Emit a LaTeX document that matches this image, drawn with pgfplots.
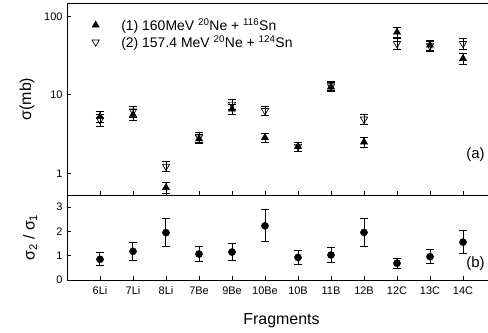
\documentclass[border=0pt]{standalone}
\usepackage{pgfplots}
\pgfplotsset{compat=1.18}
\usepackage{fontspec}
\setmainfont{Liberation Sans}
\begin{document}
\begin{tikzpicture}
\pgfplotsset{
  every axis/.append style={
    scale only axis, width=429bp, xmin=-1, xmax=12,
    xtick={0,...,11}, tick align=inside, xtick pos=lower, ytick pos=left,
    major tick length=4bp, axis line style={line width=0.8bp},
    every tick/.style={black, line width=0.8bp},
    ticklabel style={font=\fontsize{11}{13}\selectfont},
    /pgf/number format/assume math mode=true,
    label style={font=\fontsize{16}{18}\selectfont},
  },
}
\begin{axis}[name=top, at={(0,0)}, anchor=north west, height=192bp,
  ymode=log, ymin=0.53, ymax=148, ytick={1,10,100}, yticklabels={1,10,100},
  yminorticks=false, xticklabels={},
  yticklabel style={xshift=-1bp},
  ylabel={σ(mb)}, ylabel style={at={(axis description cs:-0.093,0.5)}, anchor=center},
  legend style={draw=none, fill=none, at={(axis description cs:0.051,0.942)}, anchor=north west,
    font=\fontsize{14}{16}\selectfont, row sep=-0.5bp, cells={anchor=west}},
]
\addplot[only marks, mark=triangle*, mark size=4.2bp, black,
  error bars/.cd, y dir=both, y explicit, error bar style={line width=1bp}, error mark options={rotate=90, mark size=4.2bp, line width=1bp}]
  table[x=x, y=y, y error=e] {
x y e
0 5.3 0.8
1 5.6 0.9
2 0.66 0.1
3 2.75 0.35
4 6.6 1.0
5 2.85 0.4
6 2.2 0.3
7 12.6 1.7
8 2.5 0.35
9 63 9
10 43 6
11 29 4.5
};
\addlegendentry{\hspace{20bp}(1) 160MeV \textsuperscript{20}Ne + \textsuperscript{116}Sn}
\addplot[only marks, mark=triangle, mark size=4.2bp, black, mark options={rotate=180, line width=0.7bp},
  error bars/.cd, y dir=both, y explicit, error bar style={line width=1bp}, error mark options={rotate=90, mark size=4.2bp, line width=1bp}]
  table[x=x, y=y, y error=e] {
x y e
0 4.8 0.8
1 6.2 1.0
2 1.23 0.18
3 2.9 0.4
4 7.6 1.1
5 6.3 0.9
6 2.2 0.3
7 13.0 1.8
8 4.9 0.7
9 45 7
10 42 6
11 45 7
};
\addlegendentry{\hspace{20bp}(2) 157.4 MeV \textsuperscript{20}Ne + \textsuperscript{124}Sn}
\node[font=\fontsize{15}{17}\selectfont] at (axis description cs:0.952,0.208) {(a)};
\end{axis}
\begin{axis}[name=bot, at={(top.south west)}, anchor=north west, height=85bp,
  ymin=0, ymax=3.5, ytick={0,1,2,3},
  xticklabels={6Li,7Li,8Li,7Be,9Be,10Be,10B,11B,12B,12C,13C,14C},
  xticklabel style={yshift=-3bp}, yticklabel style={xshift=-1bp},
  ylabel={σ\textsubscript{2} / σ\textsubscript{1}}, ylabel style={at={(axis description cs:-0.086,0.5)}, anchor=center},
  xlabel={Fragments}, xlabel style={at={(axis description cs:0.5,-0.48)}, anchor=center},
]
\addplot[only marks, mark=*, mark size=3.6bp, black,
  error bars/.cd, y dir=both, y explicit, error bar style={line width=1bp}, error mark options={rotate=90, mark size=4.2bp, line width=1bp}]
  table[x=x, y=y, y error=e] {
x y e
0 0.85 0.27
1 1.18 0.36
2 1.95 0.59
3 1.07 0.32
4 1.15 0.35
5 2.23 0.66
6 0.93 0.29
7 1.03 0.30
8 1.96 0.59
9 0.69 0.21
10 0.96 0.28
11 1.56 0.47
};
\node[font=\fontsize{15}{17}\selectfont] at (axis description cs:0.952,0.19) {(b)};
\end{axis}
\pgfresetboundingbox
\path[use as bounding box] (-67bp,3bp) rectangle (421bp,-330bp);
\end{tikzpicture}
\end{document}
